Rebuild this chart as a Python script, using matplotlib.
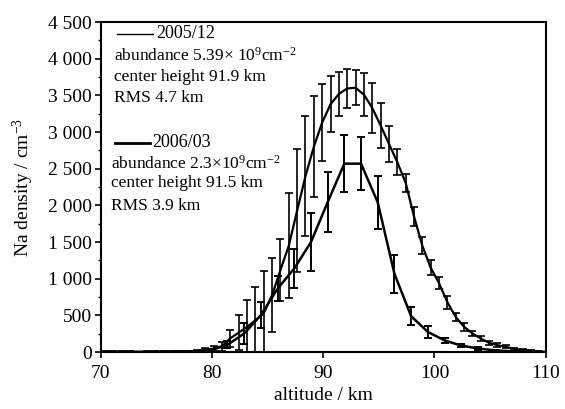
import numpy as np
import matplotlib
matplotlib.use("Agg")
import matplotlib.pyplot as plt
from matplotlib.ticker import MultipleLocator

plt.rcParams['font.family'] = ['Liberation Serif', 'DejaVu Serif']
plt.rcParams['mathtext.fontset'] = 'custom'
plt.rcParams['mathtext.rm'] = 'Liberation Serif'
plt.rcParams['mathtext.it'] = 'Liberation Serif:italic'

# 2005/12 profile (0.75 km bins)
alt_0512 = [70.41, 71.16, 71.91, 72.66, 73.41, 74.16, 74.91, 75.66, 76.41, 77.16,
            77.91, 78.66, 79.41, 80.16, 80.91, 81.66, 82.41, 83.16, 83.91, 84.66,
            85.41, 86.16, 86.91, 87.66, 88.41, 89.16, 89.91, 90.66, 91.41, 92.16,
            92.91, 93.66, 94.41, 95.16, 95.91, 96.66, 97.41, 98.16, 98.91, 99.66,
            100.41, 101.16, 101.91, 102.66, 103.41, 104.16, 104.91, 105.66, 106.41, 107.16,
            107.91, 108.66, 109.41]
dens_0512 = [5, 8, 4, 6, 3, 5, 4, 7, 5, 8,
             10, 15, 30, 50, 80, 190, 265, 345, 435, 530,
             780, 1120, 1450, 1930, 2400, 2800, 3130, 3380, 3520, 3595,
             3605, 3510, 3330, 3090, 2840, 2590, 2310, 1850, 1450, 1150,
             940, 680, 480, 345, 255, 186, 127, 95, 72, 45,
             30, 18, 10]
err_0512 = [5, 5, 5, 5, 5, 5, 5, 5, 5, 8,
            10, 12, 20, 30, 60, 115, 240, 360, 460, 570,
            505, 420, 715, 835, 815, 690, 520, 385, 295, 260,
            240, 290, 340, 305, 250, 180, 125, 125, 115, 100,
            80, 90, 60, 50, 40, 35, 30, 25, 20, 15,
            12, 10, 8]

# 2006/03 profile (1.5 km bins)
alt_0603 = [70.9, 72.4, 73.9, 75.4, 76.9, 78.4, 79.9, 81.4, 82.9, 84.4,
            85.9, 87.4, 88.9, 90.4, 91.9, 93.4, 94.9, 96.4, 97.9, 99.4,
            100.9, 102.4, 103.9, 105.4, 106.9, 108.4, 109.9]
dens_0603 = [3, 4, 3, 5, 6, 10, 25, 100, 254, 503,
             865, 1140, 1500, 2043, 2570, 2570, 2043, 1070, 490, 276,
             160, 90, 50, 25, 12, 6, 3]
err_0603 = [3, 3, 3, 3, 4, 6, 15, 50, 140, 180,
            170, 260, 400, 410, 385, 365, 360, 260, 125, 85,
            35, 25, 15, 10, 6, 4, 3]

yticks = [0, 500, 1000, 1500, 2000, 2500, 3000, 3500, 4000, 4500]
ytick_labels = ['0', '500', '1 000', '1 500', '2 000', '2 500', '3 000', '3 500', '4 000', '4 500']
xticks = [70, 80, 90, 100, 110]

fig = plt.figure(figsize=(5.65, 4.09), dpi=100)
ax = fig.add_axes([0.178, 0.139, 0.788, 0.807])

ax.errorbar(alt_0512, dens_0512, yerr=err_0512, color='k', lw=1.6,
            elinewidth=1.2, capsize=3, capthick=1.2)
ax.errorbar(alt_0603, dens_0603, yerr=err_0603, color='k', lw=1.8,
            elinewidth=1.4, capsize=3, capthick=1.4)

ax.set_xlim(70, 110)
ax.set_ylim(0, 4500)
ax.set_xticks(xticks)
ax.set_yticks(yticks)
ax.set_yticklabels(ytick_labels)
ax.yaxis.set_minor_locator(MultipleLocator(250))
ax.tick_params(axis='both', which='major', labelsize=14, direction='out',
               length=4, width=1.2, pad=2)
ax.tick_params(axis='x', which='major', pad=5)
ax.tick_params(axis='y', which='minor', direction='out', length=2, width=1)
for s in ax.spines.values():
    s.set_linewidth(1.5)

ax.set_xlabel('altitude / km', fontsize=14, labelpad=4)
ax.set_ylabel('Na density / cm$^{-3}$', fontsize=14, labelpad=9)

# legend block
tr = ax.transAxes
ax.plot([0.037, 0.118], [0.964, 0.964], color='k', lw=1.0, transform=tr)
ax.text(0.124, 0.964, '2005/12', transform=tr, fontsize=13, va='center')
ax.text(0.030, 0.897, 'abundance 5.39\u00d7 10$^{9}$cm$^{-2}$', transform=tr,
        fontsize=12.5, va='center')
ax.text(0.030, 0.834, 'center height 91.9 km', transform=tr, fontsize=12.5, va='center')
ax.text(0.030, 0.770, 'RMS 4.7 km', transform=tr, fontsize=12.5, va='center')

ax.plot([0.032, 0.111], [0.634, 0.634], color='k', lw=2.0, transform=tr)
ax.text(0.117, 0.634, '2006/03', transform=tr, fontsize=13, va='center')
ax.text(0.023, 0.571, 'abundance 2.3\u00d710$^{9}$cm$^{-2}$', transform=tr,
        fontsize=12.5, va='center')
ax.text(0.023, 0.511, 'center height 91.5 km', transform=tr, fontsize=12.5, va='center')
ax.text(0.023, 0.444, 'RMS 3.9 km', transform=tr, fontsize=12.5, va='center')

fig.savefig('out.png', dpi=100)
